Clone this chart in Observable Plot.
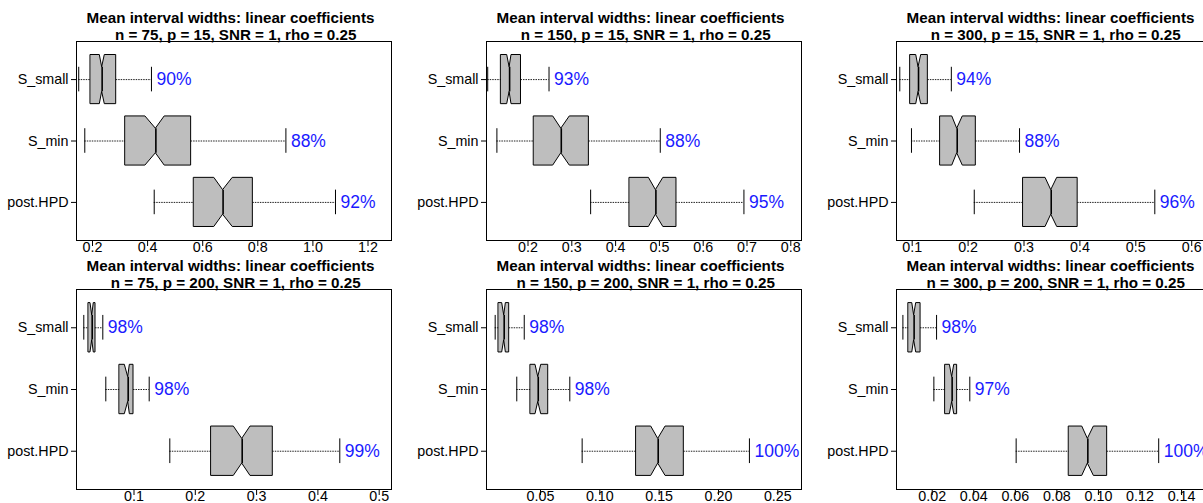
<!DOCTYPE html>
<html><head><meta charset="utf-8">
<script src="https://cdn.jsdelivr.net/npm/d3@7"></script>
<script src="https://cdn.jsdelivr.net/npm/@observablehq/plot@0.6"></script>
<style>
html,body{margin:0;padding:0;background:#fff;width:1203px;height:503px;overflow:hidden;}
#root{position:relative;width:1203px;height:503px;font-family:"Liberation Sans",Arial,sans-serif;}
.panel{position:absolute;width:409px;}
.panel svg{overflow:visible;background:transparent !important;max-width:none !important;width:409px;}
</style></head><body><div id="root"></div>
<script>
// Categories (top to bottom) and their numeric positions (R boxplot order: post.HPD = 1)
const groups = ["S_small", "S_min", "post.HPD"];
const groupPos = [3, 2, 1];
const nValues = [75, 150, 300];
const pValues = [15, 200];
const titleLine1 = "Mean interval widths: linear coefficients";

// Box statistics per group: [whiskerLow, q1, notchLow, median, notchHigh, q3, whiskerHigh]
const stats_n75_p15 = [
  [0.150, 0.194, 0.2265, 0.235, 0.2446, 0.286, 0.414],
  [0.172, 0.320, 0.392, 0.430, 0.462, 0.558, 0.902],
  [0.424, 0.569, 0.642, 0.674, 0.709, 0.782, 1.082]
];
const stats_n150_p15 = [
  [0.108, 0.139, 0.1525, 0.158, 0.1623, 0.184, 0.248],
  [0.129, 0.214, 0.2575, 0.276, 0.2954, 0.339, 0.502],
  [0.343, 0.4325, 0.476, 0.492, 0.509, 0.539, 0.693]
];
const stats_n300_p15 = [
  [0.0778, 0.097, 0.1072, 0.1113, 0.1161, 0.128, 0.170],
  [0.0987, 0.1506, 0.1716, 0.1805, 0.1905, 0.2138, 0.292],
  [0.211, 0.299, 0.3385, 0.3487, 0.3594, 0.396, 0.534]
];
const stats_n75_p200 = [
  [0.0181, 0.0263, 0.029, 0.0318, 0.0344, 0.0372, 0.0491],
  [0.054, 0.0768, 0.085, 0.0905, 0.0932, 0.0992, 0.1248],
  [0.1584, 0.2264, 0.2628, 0.2765, 0.290, 0.3264, 0.4357]
];
const stats_n150_p200 = [
  [0.0118, 0.0149, 0.0177, 0.0194, 0.0208, 0.0236, 0.0363],
  [0.030, 0.0418, 0.0458, 0.0481, 0.0506, 0.0565, 0.0747],
  [0.0851, 0.1309, 0.1433, 0.1492, 0.1554, 0.1708, 0.2261]
];
const stats_n300_p200 = [
  [0.0059, 0.0087, 0.0104, 0.0113, 0.0123, 0.0144, 0.0221],
  [0.0208, 0.0264, 0.0285, 0.0296, 0.0306, 0.032, 0.0381],
  [0.0604, 0.0859, 0.0922, 0.0949, 0.0978, 0.1042, 0.129]
];

// Coverage labels per group
const coverage_n75_p15 = ["90%", "88%", "92%"];
const coverage_n150_p15 = ["93%", "88%", "95%"];
const coverage_n300_p15 = ["94%", "88%", "96%"];
const coverage_n75_p200 = ["98%", "98%", "99%"];
const coverage_n150_p200 = ["98%", "98%", "100%"];
const coverage_n300_p200 = ["98%", "97%", "100%"];

// X tick values and labels
const ticks_n75_p15 = [0.2, 0.4, 0.6, 0.8, 1.0, 1.2];
const tickLabels_n75_p15 = ["0.2", "0.4", "0.6", "0.8", "1.0", "1.2"];
const ticks_n150_p15 = [0.2, 0.3, 0.4, 0.5, 0.6, 0.7, 0.8];
const tickLabels_n150_p15 = ["0.2", "0.3", "0.4", "0.5", "0.6", "0.7", "0.8"];
const ticks_n300_p15 = [0.1, 0.2, 0.3, 0.4, 0.5, 0.6];
const tickLabels_n300_p15 = ["0.1", "0.2", "0.3", "0.4", "0.5", "0.6"];
const ticks_n75_p200 = [0.1, 0.2, 0.3, 0.4, 0.5];
const tickLabels_n75_p200 = ["0.1", "0.2", "0.3", "0.4", "0.5"];
const ticks_n150_p200 = [0.05, 0.10, 0.15, 0.20, 0.25];
const tickLabels_n150_p200 = ["0.05", "0.10", "0.15", "0.20", "0.25"];
const ticks_n300_p200 = [0.02, 0.04, 0.06, 0.08, 0.10, 0.12, 0.14];
const tickLabels_n300_p200 = ["0.02", "0.04", "0.06", "0.08", "0.10", "0.12", "0.14"];

// X domains (axis limits)
const xDomain_n75_p15 = [0.1419, 1.2853];
const xDomain_n150_p15 = [0.10525, 0.82443];
const xDomain_n300_p15 = [0.07191, 0.63541];
const xDomain_n75_p200 = [0.0062, 0.52006];
const xDomain_n150_p200 = [0.00449, 0.26998];
const xDomain_n300_p200 = [0.00282, 0.15441];

const FONT = "Liberation Sans, Arial, sans-serif";

function makePanel(stats, coverage, ticks, tickLabels, xDomain, n, p, frameH) {
  const rows = groups.map((g, i) => ({
    group: g, pos: groupPos[i],
    wlo: stats[i][0], q1: stats[i][1], nlo: stats[i][2], med: stats[i][3],
    nhi: stats[i][4], q3: stats[i][5], whi: stats[i][6], cov: coverage[i]
  }));
  const hw = 0.4;
  const poly = rows.flatMap(r => [
    {group: r.group, x: r.q1, lo: r.pos - hw, hi: r.pos + hw},
    {group: r.group, x: r.nlo, lo: r.pos - hw, hi: r.pos + hw},
    {group: r.group, x: r.med, lo: r.pos - hw / 2, hi: r.pos + hw / 2},
    {group: r.group, x: r.nhi, lo: r.pos - hw, hi: r.pos + hw},
    {group: r.group, x: r.q3, lo: r.pos - hw, hi: r.pos + hw}
  ]);
  const line2 = `n = ${n}, p = ${p}, SNR = 1, rho = 0.25`;
  const marginTop = 41, marginBottom = 12, marginLeft = 76, marginRight = 18;
  return Plot.plot({
    width: 409,
    height: marginTop + frameH + marginBottom,
    marginTop, marginBottom, marginLeft, marginRight,
    style: {fontFamily: FONT, fontSize: "14.3px", background: "transparent", overflow: "visible", color: "black", maxWidth: "none"},
    x: {domain: xDomain},
    y: {domain: [0.38, 3.62]},
    marks: [
      Plot.ruleY(rows, {y: "pos", x1: "wlo", x2: "q1", stroke: "#222", strokeWidth: 1, strokeDasharray: "1.5,1"}),
      Plot.ruleY(rows, {y: "pos", x1: "q3", x2: "whi", stroke: "#222", strokeWidth: 1, strokeDasharray: "1.5,1"}),
      Plot.ruleX(rows, {x: "wlo", y1: d => d.pos - 0.2, y2: d => d.pos + 0.2, stroke: "black", strokeWidth: 1}),
      Plot.ruleX(rows, {x: "whi", y1: d => d.pos - 0.2, y2: d => d.pos + 0.2, stroke: "black", strokeWidth: 1}),
      Plot.areaY(poly, {x: "x", y1: "lo", y2: "hi", z: "group", fill: "#BEBEBE", stroke: "black", strokeWidth: 1, curve: "linear"}),
      Plot.ruleX(rows, {x: "med", y1: d => d.pos - hw / 2, y2: d => d.pos + hw / 2, stroke: "black", strokeWidth: 1.6}),
      Plot.text(rows, {x: "whi", y: "pos", text: "cov", textAnchor: "start", dx: 5, fill: "#1a1aff", fontSize: 17.5, fontFamily: FONT}),
      Plot.frame({stroke: "black", strokeWidth: 1}),
      Plot.axisX({ticks, tickFormat: d => tickLabels[ticks.indexOf(d)], tickSize: 6, tickPadding: -4.5, fontSize: 14.3, fontFamily: FONT, label: null}),
      Plot.axisY({ticks: groupPos, tickFormat: d => groups[groupPos.indexOf(d)], tickSize: 5, tickPadding: 3, fontSize: 14.3, fontFamily: FONT, label: null}),
      Plot.text([titleLine1], {text: d => d, frameAnchor: "top", dy: -18.7, dx: -3.5, lineAnchor: "bottom", fontWeight: "bold", fontSize: 15.2, fontFamily: FONT, fill: "black"}),
      Plot.text([line2], {text: d => d, frameAnchor: "top", dy: -1.3, dx: 1.7, lineAnchor: "bottom", fontWeight: "bold", fontSize: 15.2, fontFamily: FONT, fill: "black"})
    ]
  });
}

const root = document.getElementById("root");
const panels = [
  [stats_n75_p15, coverage_n75_p15, ticks_n75_p15, tickLabels_n75_p15, xDomain_n75_p15, nValues[0], pValues[0], 199, 0, 0],
  [stats_n150_p15, coverage_n150_p15, ticks_n150_p15, tickLabels_n150_p15, xDomain_n150_p15, nValues[1], pValues[0], 199, 410, 0],
  [stats_n300_p15, coverage_n300_p15, ticks_n300_p15, tickLabels_n300_p15, xDomain_n300_p15, nValues[2], pValues[0], 199, 820, 0],
  [stats_n75_p200, coverage_n75_p200, ticks_n75_p200, tickLabels_n75_p200, xDomain_n75_p200, nValues[0], pValues[1], 200, 0, 248],
  [stats_n150_p200, coverage_n150_p200, ticks_n150_p200, tickLabels_n150_p200, xDomain_n150_p200, nValues[1], pValues[1], 200, 410, 248],
  [stats_n300_p200, coverage_n300_p200, ticks_n300_p200, tickLabels_n300_p200, xDomain_n300_p200, nValues[2], pValues[1], 200, 820, 248]
];
for (const [s, c, t, tl, xd, n, p, fh, left, top] of panels) {
  const div = document.createElement("div");
  div.className = "panel";
  div.style.left = left + "px";
  div.style.top = top + "px";
  div.appendChild(makePanel(s, c, t, tl, xd, n, p, fh));
  root.appendChild(div);
}
</script>
</body></html>
